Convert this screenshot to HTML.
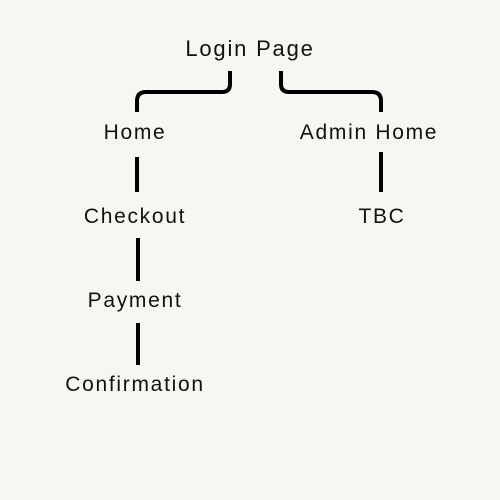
<!DOCTYPE html>
<html><head><style>
body{margin:0;width:500px;height:500px;background:#f8f6f2;position:relative;overflow:hidden;font-family:"Liberation Sans",sans-serif;color:#111}
.t{position:absolute;transform:translate(-50%,-50%);white-space:nowrap;font-size:21px;letter-spacing:1.7px}
</style></head><body>
<svg width="500" height="500" style="position:absolute;left:0;top:0" fill="none" stroke="#000" stroke-width="4">
<path d="M230 71 V84 Q230 92 222 92 H146 Q137 92 137 101 V112"/>
<path d="M281 71 V84 Q281 92 289 92 H372 Q381 92 381 101 V112"/>
<path d="M137 157 V192"/>
<path d="M138 238 V281"/>
<path d="M138 323 V365"/>
<path d="M381 152 V192"/>
</svg>
<div class="t" style="left:250px;top:49px;font-size:22px;letter-spacing:1.8px">Login Page</div>
<div class="t" style="left:135px;top:133px">Home</div>
<div class="t" style="left:369px;top:133px">Admin Home</div>
<div class="t" style="left:135px;top:217px">Checkout</div>
<div class="t" style="left:382px;top:217px">TBC</div>
<div class="t" style="left:135px;top:301px">Payment</div>
<div class="t" style="left:135px;top:385px">Confirmation</div>
</body></html>
